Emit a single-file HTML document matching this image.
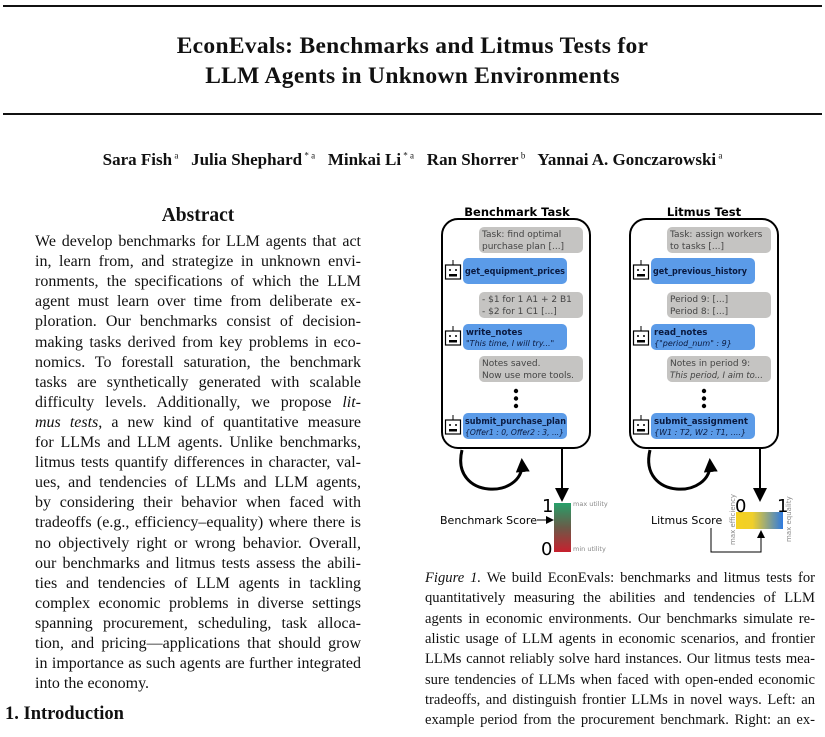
<!DOCTYPE html>
<html><head><meta charset="utf-8"><style>
body{margin:0;width:825px;height:737px;background:#fff;position:relative;overflow:hidden;font-family:"Liberation Serif",serif;color:#111}
.a{position:absolute}
.rule{position:absolute;left:3px;width:819px;height:2px;background:#111}
.title{position:absolute;left:0;width:825px;text-align:center;font-weight:bold;font-size:23.5px;letter-spacing:0.3px}
.ln{position:absolute;font-size:16px;text-align:justify;text-align-last:justify;white-space:nowrap;height:20px;line-height:20px}
.ab .ln{left:35px;width:326px}
.cap .ln{left:425px;width:390px;font-size:14.6px}
.nj{text-align-last:left!important}
sup{font-size:9px;font-weight:normal}
</style></head><body>
<div class="rule" style="top:5px"></div>
<div class="title" style="top:33px">EconEvals: Benchmarks and Litmus Tests for</div>
<div class="title" style="top:63px">LLM Agents in Unknown Environments</div>
<div class="rule" style="top:113px"></div>
<div class="a" style="top:150px;left:0;width:825px;text-align:center;font-weight:bold;font-size:17px">Sara Fish<sup> a</sup>&nbsp;&nbsp; Julia Shephard<sup> * a</sup>&nbsp;&nbsp; Minkai Li<sup> * a</sup>&nbsp;&nbsp; Ran Shorrer<sup> b</sup>&nbsp;&nbsp; Yannai A. Gonczarowski<sup> a</sup></div>
<div class="a" style="top:205px;left:35px;width:326px;text-align:center;font-weight:bold;font-size:19.5px">Abstract</div>
<div class="ab">
<div class="ln" style="top:232px">We develop benchmarks for LLM agents that act</div>
<div class="ln" style="top:252.1px">in, learn from, and strategize in unknown envi-</div>
<div class="ln" style="top:272.2px">ronments, the specifications of which the LLM</div>
<div class="ln" style="top:292.3px">agent must learn over time from deliberate ex-</div>
<div class="ln" style="top:312.4px">ploration. Our benchmarks consist of decision-</div>
<div class="ln" style="top:332.5px">making tasks derived from key problems in eco-</div>
<div class="ln" style="top:352.6px">nomics. To forestall saturation, the benchmark</div>
<div class="ln" style="top:372.7px">tasks are synthetically generated with scalable</div>
<div class="ln" style="top:392.8px">difficulty levels. Additionally, we propose <i>lit-</i></div>
<div class="ln" style="top:412.9px"><i>mus tests</i>, a new kind of quantitative measure</div>
<div class="ln" style="top:433px">for LLMs and LLM agents. Unlike benchmarks,</div>
<div class="ln" style="top:453.1px">litmus tests quantify differences in character, val-</div>
<div class="ln" style="top:473.2px">ues, and tendencies of LLMs and LLM agents,</div>
<div class="ln" style="top:493.3px">by considering their behavior when faced with</div>
<div class="ln" style="top:513.4px">tradeoffs (e.g., efficiency–equality) where there is</div>
<div class="ln" style="top:533.5px">no objectively right or wrong behavior. Overall,</div>
<div class="ln" style="top:553.6px">our benchmarks and litmus tests assess the abili-</div>
<div class="ln" style="top:573.7px">ties and tendencies of LLM agents in tackling</div>
<div class="ln" style="top:593.8px">complex economic problems in diverse settings</div>
<div class="ln" style="top:613.9px">spanning procurement, scheduling, task alloca-</div>
<div class="ln" style="top:634px">tion, and pricing—applications that should grow</div>
<div class="ln" style="top:654.1px">in importance as such agents are further integrated</div>
<div class="ln nj" style="top:674.2px;text-align:left">into the economy.</div>
</div>
<div class="a" style="top:704px;left:5px;font-weight:bold;font-size:18.5px">1. Introduction</div>
<div class="cap">
<div class="ln" style="top:568px"><i>Figure 1.</i> We build EconEvals: benchmarks and litmus tests for</div>
<div class="ln" style="top:588px">quantitatively measuring the abilities and tendencies of LLM</div>
<div class="ln" style="top:609px">agents in economic environments. Our benchmarks simulate re-</div>
<div class="ln" style="top:629px">alistic usage of LLM agents in economic scenarios, and frontier</div>
<div class="ln" style="top:649px">LLMs cannot reliably solve hard instances. Our litmus tests mea-</div>
<div class="ln" style="top:670px">sure tendencies of LLMs when faced with open-ended economic</div>
<div class="ln" style="top:690px">tradeoffs, and distinguish frontier LLMs in novel ways. Left: an</div>
<div class="ln" style="top:710px">example period from the procurement benchmark. Right: an ex-</div>
</div>
<svg class="a" style="left:0;top:0" width="825" height="737" font-family="DejaVu Sans, sans-serif">
<defs>
<marker id="ah" markerWidth="8" markerHeight="8" refX="6" refY="4" orient="auto" markerUnits="userSpaceOnUse"><path d="M0,0 L8,4 L0,8 z" fill="#000"/></marker>
<marker id="ab" markerWidth="14" markerHeight="14" refX="10" refY="7" orient="auto" markerUnits="userSpaceOnUse"><path d="M0,0 L14,7 L0,14 z" fill="#000"/></marker>
<linearGradient id="gr" x1="0" y1="0" x2="0" y2="1"><stop offset="0" stop-color="#27a06a"/><stop offset="0.5" stop-color="#6b5a48"/><stop offset="1" stop-color="#c8202e"/></linearGradient>
<linearGradient id="yb" x1="0" y1="0" x2="1" y2="0"><stop offset="0" stop-color="#f5d21f"/><stop offset="0.35" stop-color="#f0cf2a"/><stop offset="1" stop-color="#2e7ae0"/></linearGradient>
<g id="robot"><line x1="8" y1="-5" x2="8" y2="0" stroke="#000"/><rect x="0.5" y="0" width="15" height="14" fill="#fff" stroke="#000" stroke-width="1.2"/><circle cx="5" cy="5" r="1" fill="#000"/><circle cx="11" cy="5" r="1" fill="#000"/><rect x="4" y="9" width="8" height="2.5" fill="#000"/></g>
</defs>
<text x="517" y="216" text-anchor="middle" font-weight="bold" font-size="11.5">Benchmark Task</text>
<text x="704" y="216" text-anchor="middle" font-weight="bold" font-size="11.5">Litmus Test</text>
<rect x="442" y="219" width="148" height="229" rx="16" fill="#fff" stroke="#000" stroke-width="2"/>
<rect x="630" y="219" width="148" height="229" rx="16" fill="#fff" stroke="#000" stroke-width="2"/>
<g font-size="9" fill="#444">
<rect x="479" y="227" width="104" height="26" rx="5" fill="#c5c4c2"/>
<text x="482" y="237">Task: find optimal</text><text x="482" y="249">purchase plan [...]</text>
<rect x="479" y="292" width="104" height="26" rx="5" fill="#c5c4c2"/>
<text x="482" y="302">- $1 for 1 A1 + 2 B1</text><text x="482" y="314">- $2 for 1 C1 [...]</text>
<rect x="479" y="356" width="104" height="26" rx="5" fill="#c5c4c2"/>
<text x="482" y="366">Notes saved.</text><text x="482" y="378">Now use more tools.</text>
<rect x="667" y="227" width="104" height="26" rx="5" fill="#c5c4c2"/>
<text x="670" y="237">Task: assign workers</text><text x="670" y="249">to tasks [...]</text>
<rect x="667" y="292" width="104" height="26" rx="5" fill="#c5c4c2"/>
<text x="670" y="302">Period 9: [...]</text><text x="670" y="314">Period 8: [...]</text>
<rect x="667" y="356" width="104" height="26" rx="5" fill="#c5c4c2"/>
<text x="670" y="366">Notes in period 9:</text><text x="670" y="378" font-style="italic" font-size="8.5">This period, I aim to...</text>
</g>
<g fill="#5b9be8">
<rect x="463" y="258" width="104" height="26" rx="5"/><rect x="463" y="324" width="104" height="26" rx="5"/><rect x="463" y="413" width="104" height="26" rx="5"/>
<rect x="651" y="258" width="104" height="26" rx="5"/><rect x="651" y="324" width="104" height="26" rx="5"/><rect x="651" y="413" width="104" height="26" rx="5"/>
</g>
<g font-size="8.6" fill="#0a1a40">
<text x="465" y="274" font-weight="bold" textLength="100" lengthAdjust="spacingAndGlyphs">get_equipment_prices</text>
<text x="466" y="335" font-weight="bold">write_notes</text><text x="466" y="346" font-style="italic" font-size="8">"This time, I will try..."</text>
<text x="465" y="424" font-weight="bold" textLength="101" lengthAdjust="spacingAndGlyphs">submit_purchase_plan</text><text x="465" y="435" font-style="italic" font-size="8" textLength="99" lengthAdjust="spacingAndGlyphs">{Offer1 : 0, Offer2 : 3, ...}</text>
<text x="653" y="274" font-weight="bold" textLength="94" lengthAdjust="spacingAndGlyphs">get_previous_history</text>
<text x="654" y="335" font-weight="bold">read_notes</text><text x="654" y="346" font-style="italic" font-size="8">{"period_num" : 9}</text>
<text x="654" y="424" font-weight="bold">submit_assignment</text><text x="654" y="435" font-style="italic" font-size="8">{W1 : T2, W2 : T1, ....}</text>
</g>
<use href="#robot" x="445" y="265"/><use href="#robot" x="445" y="331"/><use href="#robot" x="445" y="420"/>
<use href="#robot" x="633" y="265"/><use href="#robot" x="633" y="331"/><use href="#robot" x="633" y="420"/>
<g fill="#000"><circle cx="516" cy="391" r="2.2"/><circle cx="516" cy="398.5" r="2.2"/><circle cx="516" cy="406" r="2.2"/>
<circle cx="704" cy="391" r="2.2"/><circle cx="704" cy="398.5" r="2.2"/><circle cx="704" cy="406" r="2.2"/></g>
<path d="M462,450 C450,500 525,500 522,462" fill="none" stroke="#000" stroke-width="3" marker-end="url(#ab)"/>
<path d="M650,450 C638,500 713,500 710,462" fill="none" stroke="#000" stroke-width="3" marker-end="url(#ab)"/>
<line x1="562" y1="448" x2="562" y2="498" stroke="#000" stroke-width="2" marker-end="url(#ab)"/>
<line x1="760" y1="448" x2="760" y2="498" stroke="#000" stroke-width="2" marker-end="url(#ab)"/>
<rect x="554" y="503" width="17" height="49" fill="url(#gr)"/>
<text x="542" y="512" font-size="18">1</text><text x="541" y="555" font-size="18">0</text>
<text x="573" y="506" font-size="6.5" fill="#888">max utility</text><text x="573" y="551" font-size="6.5" fill="#888">min utility</text>
<text x="440" y="524" font-size="11">Benchmark Score</text>
<line x1="537" y1="520" x2="552" y2="520" stroke="#000" marker-end="url(#ah)"/>
<rect x="736" y="512" width="47" height="17" fill="url(#yb)"/>
<text x="735" y="512" font-size="18">0</text><text x="777" y="512" font-size="18">1</text>
<text x="651" y="524" font-size="11">Litmus Score</text>
<text transform="translate(735,545) rotate(-90)" font-size="7" fill="#888">max efficiency</text>
<text transform="translate(791,542) rotate(-90)" font-size="7" fill="#888">max equality</text>
<polyline points="711,528 711,552 761,552 761,532" fill="none" stroke="#000" marker-end="url(#ah)"/>
</svg>
</body></html>
